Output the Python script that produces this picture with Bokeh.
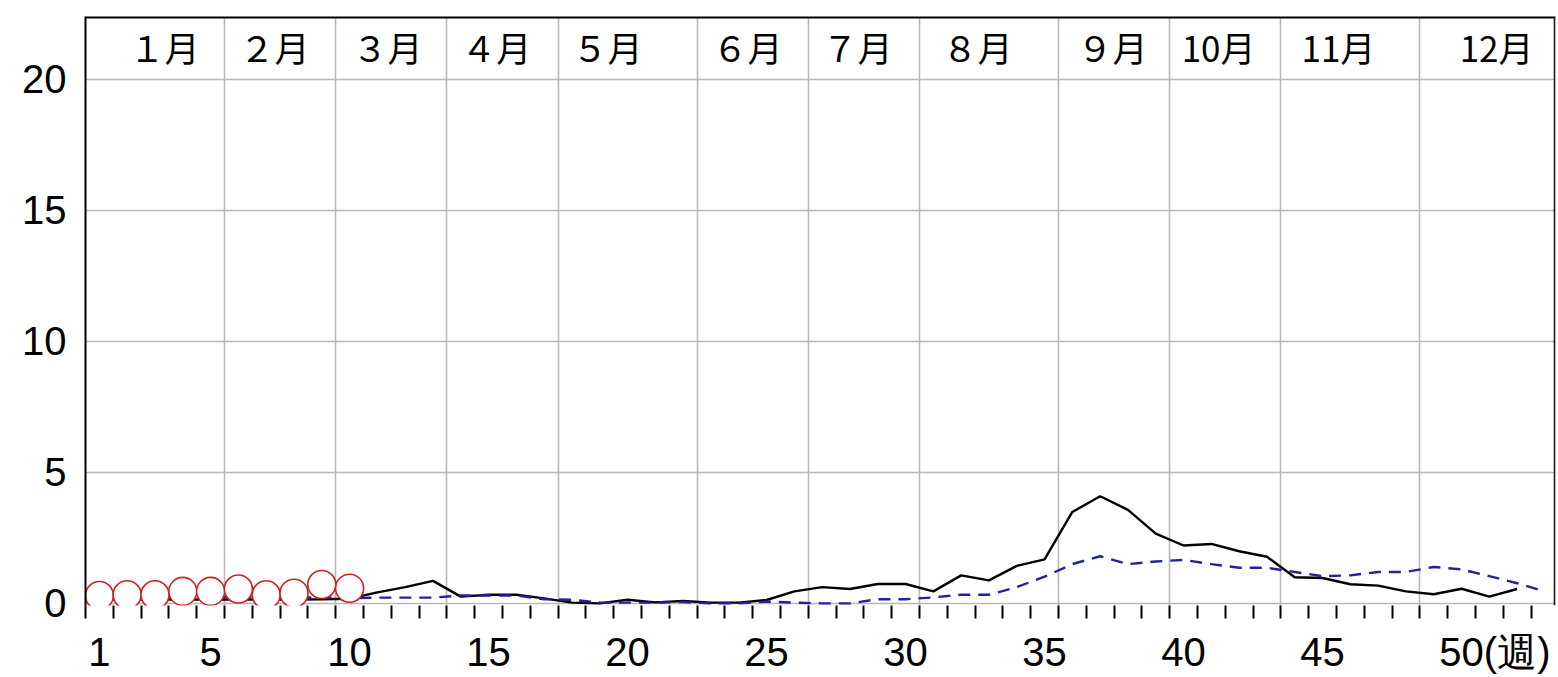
from bokeh.plotting import figure
from bokeh.models import FixedTicker, Span, Range1d
from bokeh.core.properties import value
from bokeh.embed import file_html
from bokeh.resources import INLINE

# ---- data ----
weeks_this = list(range(1, 11))
this_year = [0.30, 0.33, 0.33, 0.46, 0.46, 0.55, 0.33, 0.39, 0.72, 0.58]

weeks_last = list(range(1, 53))
last_year = [0.15, 0.15, 0.15, 0.15, 0.15, 0.15, 0.15, 0.15, 0.16, 0.18,
             0.42, 0.62, 0.86, 0.26, 0.33, 0.33, 0.19, 0.03, 0.00, 0.14,
             0.04, 0.09, 0.03, 0.03, 0.13, 0.46, 0.62, 0.55, 0.74, 0.74,
             0.46, 1.07, 0.88, 1.43, 1.68, 3.49, 4.09, 3.57, 2.66, 2.21,
             2.27, 1.99, 1.78, 1.00, 0.97, 0.73, 0.68, 0.46, 0.35, 0.56,
             0.26, 0.55]

weeks_avg = list(range(1, 54))
avg_5yr = [0.25, 0.25, 0.25, 0.25, 0.25, 0.25, 0.25, 0.25, 0.22, 0.20,
           0.22, 0.22, 0.22, 0.30, 0.30, 0.30, 0.16, 0.14, 0.03, 0.03,
           0.03, 0.05, 0.00, 0.00, 0.07, 0.03, 0.00, 0.00, 0.16, 0.16,
           0.23, 0.33, 0.33, 0.62, 1.02, 1.50, 1.80, 1.50, 1.60, 1.66,
           1.50, 1.36, 1.36, 1.20, 1.04, 1.07, 1.20, 1.20, 1.39, 1.30,
           1.04, 0.77, 0.45]

month_labels = ["１月", "２月", "３月", "４月", "５月", "６月",
                "７月", "８月", "９月", "10月", "11月", "12月"]
month_label_week = [3.34, 7.30, 11.36, 15.28, 19.28, 24.31,
                    28.27, 32.59, 37.44, 41.26, 45.57, 51.26]
month_end_week = [5, 9, 13, 17, 22, 26, 30, 35, 39, 43, 48]
x_tick_weeks = [1, 5, 10, 15, 20, 25, 30, 35, 40, 45, 50]
n_weeks = 52
y_ticks = [0, 5, 10, 15, 20]
x_unit_label = "(週)"

# ---- figure ----
X0, X1 = 0.5, 53.38
Y0, Y1 = -0.08, 22.4
NUM_FONT = "Liberation Sans"
JP_FONT = "Noto Sans CJK JP"

p = figure(width=1557, height=676,
           x_range=Range1d(X0, X1), y_range=Range1d(Y0, Y1),
           output_backend="svg", toolbar_location=None,
           min_border_left=85, min_border_top=16, min_border_right=2,
           min_border_bottom=68,
           background_fill_color="white", border_fill_color="white",
           outline_line_color=None)

# grids
grid_col = "#b8b8b8"
p.ygrid.ticker = FixedTicker(ticks=y_ticks)
p.xgrid.ticker = FixedTicker(ticks=[w + 0.5 for w in month_end_week])
p.grid.grid_line_color = grid_col
p.grid.grid_line_width = 1.6

# x axis: labels at week centres, small ticks at week boundaries
xa = p.xaxis[0]
xa.ticker = FixedTicker(ticks=x_tick_weeks,
                        minor_ticks=[b + 0.5 for b in range(0, n_weeks + 1)])
xa.axis_line_color = None
xa.major_tick_line_color = None
xa.major_tick_out = 12
xa.major_tick_in = 0
xa.minor_tick_line_color = "black"
xa.minor_tick_line_width = 2
xa.minor_tick_out = 13
xa.minor_tick_in = 0
xa.major_label_standoff = 11
xa.major_label_text_font = NUM_FONT
xa.major_label_text_font_size = "40px"
xa.major_label_text_color = "black"
# last label carries the unit; leading figure spaces keep "50" over week 50
xa.major_label_overrides = {
    x_tick_weeks[-1]: "\u2007\u2007\u2007" + str(x_tick_weeks[-1]) + x_unit_label
}

# y axis
ya = p.yaxis[0]
ya.ticker = FixedTicker(ticks=y_ticks)
ya.axis_line_color = "black"
ya.axis_line_width = 2
ya.major_tick_line_color = None
ya.minor_tick_line_color = None
ya.major_tick_out = 0
ya.major_tick_in = 0
ya.major_label_standoff = 19
ya.major_label_text_font = NUM_FONT
ya.major_label_text_font_size = "40px"
ya.major_label_text_color = "black"

# top and right frame borders
p.add_layout(Span(location=Y1 - 0.03, dimension="width",
                  line_color="black", line_width=2.5))
p.add_layout(Span(location=X1 - 0.03, dimension="height",
                  line_color="#222222", line_width=2))

# series
p.line(weeks_last, last_year, line_color="black", line_width=2.4)
p.line(weeks_avg, avg_5yr, line_color="#22229a", line_width=2.4,
       line_dash="12 8")
p.scatter(weeks_this, this_year, marker="circle", size=28,
          line_color="#d02020", line_width=1.6, fill_color="white")

# month labels in the top band
p.text(x=month_label_week, y=[21.25] * len(month_labels), text=month_labels,
       text_font=value(JP_FONT), text_font_size="35px",
       text_align="center", text_baseline="middle", text_color="black")

open("out.html", "w").write(file_html(p, INLINE))
